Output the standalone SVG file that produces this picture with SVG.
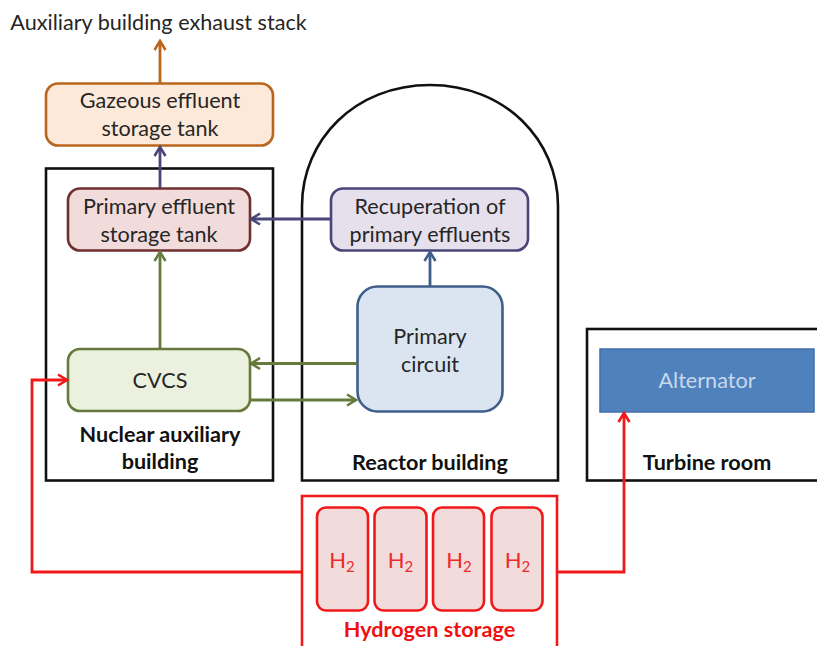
<svg xmlns="http://www.w3.org/2000/svg" width="817" height="646" viewBox="0 0 817 646">
<style>
text{font-family:Lato,"Open Sans","Liberation Sans",sans-serif;font-size:21.600px;fill:#262626;text-anchor:middle}
.b{font-weight:700;font-size:21.600px;fill:#111}
.box{fill:none;stroke:#111;stroke-width:2.600}
.n{stroke-width:2.600}
.c{fill:none;stroke-width:2.800}
.h{fill:#f2dcdb;stroke:#f01818;stroke-width:2.600}
.hl{font-size:22px}
.hs{font-size:15px}
.hl,.hs{fill:#ee2a2a}
</style>
<defs>
<marker id="ao" markerUnits="userSpaceOnUse" markerWidth="14" markerHeight="14" refX="11" refY="7" orient="auto"><path d="M2 1.500L11 7L2 12.500" fill="none" stroke="#b9661c" stroke-width="2.600"/></marker>
<marker id="ap" markerUnits="userSpaceOnUse" markerWidth="14" markerHeight="14" refX="11" refY="7" orient="auto"><path d="M2 1.500L11 7L2 12.500" fill="none" stroke="#4b4678" stroke-width="2.600"/></marker>
<marker id="ag" markerUnits="userSpaceOnUse" markerWidth="14" markerHeight="14" refX="11" refY="7" orient="auto"><path d="M2 1.500L11 7L2 12.500" fill="none" stroke="#667a3c" stroke-width="2.600"/></marker>
<marker id="ab" markerUnits="userSpaceOnUse" markerWidth="14" markerHeight="14" refX="11" refY="7" orient="auto"><path d="M2 1.500L11 7L2 12.500" fill="none" stroke="#3f5f8a" stroke-width="2.600"/></marker>
<marker id="ar" markerUnits="userSpaceOnUse" markerWidth="14" markerHeight="14" refX="11" refY="7" orient="auto"><path d="M2 1.500L11 7L2 12.500" fill="none" stroke="#f01818" stroke-width="2.600"/></marker>
</defs>
<rect width="817" height="646" fill="#fff"/>
<text x="158.500" y="29.500">Auxiliary building exhaust stack</text>
<g id="nuclear-auxiliary-building"><rect class="box" x="46" y="168.500" width="227" height="312"/><text class="b" x="160" y="442">Nuclear auxiliary</text><text class="b" x="160" y="469">building</text></g>
<g id="reactor-building"><path class="box" d="M302 480.500V206C302 140 355 85 430 85S558 140 558 206V480.500Z"/><text class="b" x="430" y="469.500">Reactor building</text></g>
<g id="turbine-room"><rect class="box" x="587" y="329" width="240" height="151.500"/><text class="b" x="707" y="469.500">Turbine room</text></g>
<g id="hydrogen-storage"><rect x="302" y="496" width="255" height="160" fill="#fff" stroke="#f01818" stroke-width="2.600"/><text class="b" x="429.500" y="637" style="fill:#f01010">Hydrogen storage</text></g>
<g id="gazeous-tank"><rect class="n" x="46" y="83.500" width="227" height="62" rx="12" fill="#fde9d9" stroke="#b9661c"/><text x="160" y="108">Gazeous effluent</text><text x="160" y="136">storage tank</text></g>
<g id="primary-tank"><rect class="n" x="68" y="188.500" width="182" height="62" rx="12" fill="#f2dcdb" stroke="#703030"/><text x="159" y="213.500">Primary effluent</text><text x="159" y="241.500">storage tank</text></g>
<g id="recuperation"><rect class="n" x="331" y="188.500" width="197" height="62" rx="12" fill="#e5e0ec" stroke="#4b4678"/><text x="430" y="213.500">Recuperation of</text><text x="430" y="241.500">primary effluents</text></g>
<g id="primary-circuit"><rect class="n" x="357.500" y="286.500" width="145" height="125" rx="20" fill="#dbe5f1" stroke="#3f5f8a"/><text x="430" y="343.500">Primary</text><text x="430" y="371.500">circuit</text></g>
<g id="cvcs"><rect class="n" x="68" y="349" width="182" height="62" rx="12" fill="#ebf1de" stroke="#667a3c"/><text x="160" y="388">CVCS</text></g>
<g id="alternator"><rect x="600" y="349" width="214" height="63" fill="#4f81bd" stroke="#3f6fa8" stroke-width="1.500"/><text x="707" y="388" style="fill:#c8d8ec">Alternator</text></g>
<g id="h2-1"><rect class="h" x="317" y="507.500" width="51" height="103" rx="9"/><text class="hl" x="342" y="568">H<tspan class="hs" dy="4">2</tspan></text></g>
<g id="h2-2"><rect class="h" x="374.500" y="507.500" width="52" height="103" rx="9"/><text class="hl" x="400.500" y="568">H<tspan class="hs" dy="4">2</tspan></text></g>
<g id="h2-3"><rect class="h" x="433" y="507.500" width="51" height="103" rx="9"/><text class="hl" x="459" y="568">H<tspan class="hs" dy="4">2</tspan></text></g>
<g id="h2-4"><rect class="h" x="491.500" y="507.500" width="51" height="103" rx="9"/><text class="hl" x="517.500" y="568">H<tspan class="hs" dy="4">2</tspan></text></g>
<g id="connectors">
<path class="c" d="M160 83V41" stroke="#b9661c" marker-end="url(#ao)"/>
<path class="c" d="M160 188V147" stroke="#4b4678" marker-end="url(#ap)"/>
<path class="c" d="M331 219H251" stroke="#4b4678" marker-end="url(#ap)"/>
<path class="c" d="M430 286V252" stroke="#3f5f8a" marker-end="url(#ab)"/>
<path class="c" d="M160 349V252" stroke="#667a3c" marker-end="url(#ag)"/>
<path class="c" d="M357 363.500H251" stroke="#667a3c" marker-end="url(#ag)"/>
<path class="c" d="M250 400H356" stroke="#667a3c" marker-end="url(#ag)"/>
<path class="c" d="M302 572H32V380H67" stroke="#f01818" marker-end="url(#ar)"/>
<path class="c" d="M557 572H624V413" stroke="#f01818" marker-end="url(#ar)"/>
</g>
</svg>
